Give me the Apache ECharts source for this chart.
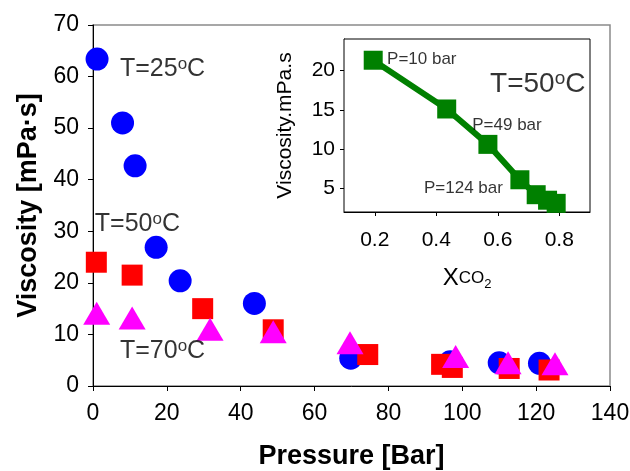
<!DOCTYPE html>
<html>
<head>
<meta charset="utf-8">
<script src="https://cdn.jsdelivr.net/npm/echarts@6/dist/echarts.min.js"></script>
<style>
html,body{margin:0;padding:0;background:#fff;}
#chart{width:630px;height:471px;}
</style>
</head>
<body>
<div id="chart"></div>
<script>
// ---- Data ----
const xTicksMain = [0, 20, 40, 60, 80, 100, 120, 140];
const yTicksMain = [0, 10, 20, 30, 40, 50, 60, 70];

const pressure25 = [1.1, 8.0, 11.4, 17.1, 23.6, 43.7, 69.8, 96.7, 110.0, 120.9];
const visc25     = [63.4, 51.0, 42.7, 26.9, 20.4, 16.0, 5.4, 4.7, 4.5, 4.4];

const pressure50 = [0.9, 10.6, 29.7, 48.8, 74.4, 94.4, 97.3, 112.7, 123.5];
const visc50     = [24.0, 21.5, 15.0, 10.9, 6.1, 4.2, 3.6, 3.4, 3.1];

const pressure70 = [1.0, 10.6, 31.7, 48.8, 69.6, 98.2, 112.4, 125.1];
const visc70     = [14.1, 13.2, 11.0, 10.5, 8.4, 5.7, 4.5, 4.3];

// inset: viscosity vs CO2 mole fraction at T=50°C
const xco2       = [0.195, 0.434, 0.568, 0.672, 0.725, 0.762, 0.79];
const viscInset  = [21.3, 15.1, 10.6, 6.1, 4.2, 3.5, 3.1];
const xTicksInset = [0.2, 0.4, 0.6, 0.8];
const yTicksInset = [5, 10, 15, 20];

// annotation texts and anchor points (data coordinates, left-middle anchor)
const mainNotes = [
  { temp: '25', x: 7.3, y: 61.5 },
  { temp: '50', x: 0.5, y: 31.4 },
  { temp: '70', x: 7.3, y: 6.8 }
];
const insetNotes = [
  { text: 'P=10 bar',  x: 0.240, y: 21.45 },
  { text: 'P=49 bar',  x: 0.517, y: 13.06 },
  { text: 'P=124 bar', x: 0.360, y: 4.96 }
];
const insetTemp = { temp: '50', x: 0.575, y: 18.2 };

// ---- Chart ----
const FONT = "'Liberation Sans', Arial, sans-serif";
const zip = (a, b) => a.map((v, i) => [v, b[i]]);

const chart = echarts.init(document.getElementById('chart'), null, { renderer: 'canvas' });

function tempRich(size, supSize) {
  return {
    a: { fontSize: size, fontFamily: FONT, color: '#000', lineHeight: size + 2 },
    s: { fontSize: supSize, fontFamily: FONT, color: '#000', verticalAlign: 'top', lineHeight: supSize }
  };
}

const option = {
  animation: false,
  backgroundColor: '#fff',
  grid: [
    { left: 93, top: 25, right: 20, bottom: 85, show: true, borderColor: '#8a8a8a', borderWidth: 1.5,
      backgroundColor: 'transparent', containLabel: false, outerBoundsMode: 'none' },
    { left: 344, top: 39, width: 246, height: 173, show: true, borderColor: '#000', borderWidth: 1,
      backgroundColor: '#fff', containLabel: false, outerBoundsMode: 'none', z: 3 }
  ],
  xAxis: [
    {
      gridIndex: 0, type: 'value', min: 0, max: 140, interval: 20,
      name: 'Pressure [Bar]', nameLocation: 'middle', nameGap: 57,
      nameTextStyle: { fontSize: 27, fontWeight: 'bold', fontFamily: FONT, color: '#000' },
      axisLine: { show: true, onZero: false, lineStyle: { color: '#000', width: 1 } },
      axisTick: { show: true, inside: false, length: 5, lineStyle: { color: '#000' } },
      axisLabel: { fontSize: 23, fontFamily: FONT, color: '#000', margin: 16,
        customValues: xTicksMain },
      splitLine: { show: false }
    },
    {
      gridIndex: 1, type: 'value', min: 0.1, max: 0.9,
      name: '{x|X}{s|CO}{t|2}', nameLocation: 'middle', nameGap: 54,
      nameTextStyle: {
        rich: {
          x: { fontSize: 24, fontFamily: FONT, color: '#000', verticalAlign: 'top', lineHeight: 25, padding: [0, 0, 12, 0] },
          s: { fontSize: 17, fontFamily: FONT, color: '#000', verticalAlign: 'bottom', lineHeight: 18, padding: [0, 0, 4, 0] },
          t: { fontSize: 13, fontFamily: FONT, color: '#000', verticalAlign: 'bottom', lineHeight: 14 }
        }
      },
      axisLine: { show: true, onZero: false, lineStyle: { color: '#000', width: 1 } },
      axisTick: { show: true, inside: false, length: 4, customValues: xTicksInset, lineStyle: { color: '#000' } },
      axisLabel: { fontSize: 21, fontFamily: FONT, color: '#000', margin: 18, customValues: xTicksInset,
        formatter: v => v.toFixed(1) },
      splitLine: { show: false }
    }
  ],
  yAxis: [
    {
      gridIndex: 0, type: 'value', min: 0, max: 70, interval: 10,
      name: 'Viscosity [mPa·s]', nameLocation: 'middle', nameGap: 51,
      nameTextStyle: { fontSize: 27, fontWeight: 'bold', fontFamily: FONT, color: '#000' },
      axisLine: { show: true, onZero: false, lineStyle: { color: '#000', width: 1 } },
      axisTick: { show: true, inside: false, length: 5, lineStyle: { color: '#000' } },
      axisLabel: { fontSize: 23, fontFamily: FONT, color: '#000', margin: 14, customValues: yTicksMain },
      splitLine: { show: false }
    },
    {
      gridIndex: 1, type: 'value', min: 2, max: 24,
      name: 'Viscosity.mPa.s', nameLocation: 'middle', nameGap: 48,
      nameTextStyle: { fontSize: 21, fontFamily: FONT, color: '#000' },
      axisLine: { show: true, onZero: false, lineStyle: { color: '#000', width: 1 } },
      axisTick: { show: true, inside: false, length: 4, customValues: yTicksInset, lineStyle: { color: '#000' } },
      axisLabel: { fontSize: 21, fontFamily: FONT, color: '#000', margin: 9, customValues: yTicksInset },
      splitLine: { show: false }
    }
  ],
  series: [
    {
      name: 'T=25°C', type: 'scatter', xAxisIndex: 0, yAxisIndex: 0,
      symbol: 'circle', symbolSize: 23, z: 2,
      itemStyle: { color: '#0000ff', opacity: 1 },
      data: zip(pressure25, visc25)
    },
    {
      name: 'T=50°C', type: 'scatter', xAxisIndex: 0, yAxisIndex: 0,
      symbol: 'rect', symbolSize: 21, z: 3,
      itemStyle: { color: '#ff0000', opacity: 1 },
      data: zip(pressure50, visc50)
    },
    {
      name: 'T=70°C', type: 'scatter', xAxisIndex: 0, yAxisIndex: 0,
      symbol: 'triangle', symbolSize: [27, 23], z: 4,
      itemStyle: { color: '#ff00ff', opacity: 1 },
      data: zip(pressure70, visc70)
    },
    {
      name: 'main notes', type: 'scatter', xAxisIndex: 0, yAxisIndex: 0,
      symbolSize: 0, silent: true, z: 5,
      label: {
        show: true, position: 'right', distance: 0, color: '#000',
        formatter: p => '{a|T=' + p.data.temp + '}{s|o}{a|C}',
        rich: tempRich(25, 17)
      },
      data: mainNotes.map(n => ({ value: [n.x, n.y], temp: n.temp }))
    },
    {
      name: 'inset', type: 'line', xAxisIndex: 1, yAxisIndex: 1,
      symbol: 'rect', symbolSize: 19, z: 6,
      lineStyle: { color: '#008000', width: 6 },
      itemStyle: { color: '#008000' },
      data: zip(xco2, viscInset)
    },
    {
      name: 'inset notes', type: 'scatter', xAxisIndex: 1, yAxisIndex: 1,
      symbolSize: 0, silent: true, z: 7,
      label: {
        show: true, position: 'right', distance: 0,
        formatter: p => p.data.text,
        fontSize: 17, fontFamily: FONT, color: '#000'
      },
      data: insetNotes.map(n => ({ value: [n.x, n.y], text: n.text }))
    },
    {
      name: 'inset temp', type: 'scatter', xAxisIndex: 1, yAxisIndex: 1,
      symbolSize: 0, silent: true, z: 7,
      label: {
        show: true, position: 'right', distance: 0, color: '#000',
        formatter: p => '{a|T=' + p.data.temp + '}{s|o}{a|C}',
        rich: tempRich(28, 19)
      },
      data: [{ value: [insetTemp.x, insetTemp.y], temp: insetTemp.temp }]
    }
  ]
};

chart.setOption(option);
</script>
</body>
</html>
